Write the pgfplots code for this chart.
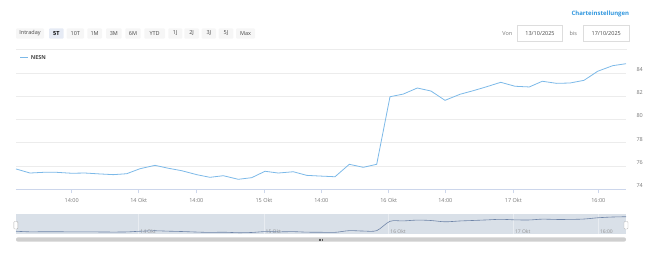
\documentclass[border=0pt]{standalone}
\usepackage{pgfplots}
\pgfplotsset{compat=1.18}
\usepackage{fontspec}
\setmainfont{Open Sans}
\definecolor{mainline}{RGB}{124,185,232}
\definecolor{gridcol}{RGB}{236,236,236}
\definecolor{axiscol}{RGB}{204,214,235}
\definecolor{labelgray}{RGB}{120,120,120}
\definecolor{navfill}{RGB}{217,224,232}
\definecolor{navline}{RGB}{111,133,168}
\definecolor{navsep}{RGB}{232,236,241}
\definecolor{btnbg}{RGB}{246,246,246}
\definecolor{btnsel}{RGB}{230,235,245}
\definecolor{linkblue}{RGB}{47,150,222}
\definecolor{boxborder}{RGB}{221,221,221}
\definecolor{scrollcol}{RGB}{207,207,207}
\definecolor{textdark}{RGB}{70,70,70}

\pgfplotstableread{
x y
16 75.75
30 75.40
43.3 75.46
56.7 75.46
71.7 75.38
85 75.40
100 75.32
113.3 75.26
126.7 75.34
140 75.77
155 76.06
168.3 75.81
181.7 75.60
196.7 75.26
210 75.03
223.3 75.17
238.3 74.86
251.7 75.00
265 75.55
278.3 75.40
293.3 75.51
306.7 75.20
320 75.14
335 75.08
349.3 76.15
363.3 75.89
376.7 76.15
390 81.96
403.3 82.19
417.3 82.71
431 82.45
445 81.65
460 82.17
473.3 82.48
486.7 82.82
500.7 83.20
515 82.86
529.3 82.80
542.3 83.29
556.7 83.11
570 83.14
584 83.37
597.7 84.15
612.7 84.63
626 84.80
}\nesn

\begin{document}
\begin{tikzpicture}[font=\fontsize{5.5}{6.5}\selectfont]
\begin{scope}[x=1pt,y=1pt]
\useasboundingbox (0,0) rectangle (654,-255);

% header: link, range buttons, date boxes
\node[anchor=east,text=linkblue,font=\fontsize{6}{7}\selectfont\bfseries,inner sep=0] at (629.3,-14.3) {Charteinstellungen};
\foreach \a/\b/\t in {16/44/Intraday,66.7/84/10T,87.3/102/1M,106/121.7/3M,125.3/140.7/6M,144.3/165/YTD,168.3/182.3/1J,184.3/199/2J,201.7/216/3J,218.7/233.3/5J,236/255/Max}{
  \fill[btnbg,rounded corners=1pt] (\a,-28.3) rectangle (\b,-38.7);
  \node[text=textdark,inner sep=0] at ({(\a+\b)/2},-33.5) {\t};
}
\fill[btnsel,rounded corners=1pt] (49,-28.3) rectangle (63.7,-38.7);
\node[text=black,inner sep=0,font=\fontsize{5.5}{6.5}\selectfont\bfseries] at (56.35,-33.5) {5T};
\node[anchor=east,text=labelgray,inner sep=0] at (512.5,-33.7) {Von};
\draw[boxborder,line width=0.5pt] (517.3,-25.7) rectangle (562.7,-41.7);
\node[text=textdark,inner sep=0] at (540,-33.7) {13/10/2025};
\node[anchor=west,text=labelgray,inner sep=0] at (569.3,-33.7) {bis};
\draw[boxborder,line width=0.5pt] (583.3,-25.7) rectangle (629,-41.7);
\node[text=textdark,inner sep=0] at (606.2,-33.7) {17/10/2025};
\draw[gridcol,line width=0.6pt] (16,-49.3) -- (626.5,-49.3);

% legend
\draw[mainline,line width=0.8pt] (20,-57.7) -- (28,-57.7);
\node[anchor=west,inner sep=0,text=textdark,font=\fontsize{5.5}{6.5}\selectfont\bfseries] at (30.7,-57.7) {NESN};

% navigator background
\fill[navfill] (16,-214) rectangle (626,-234);
\end{scope}

% main chart
\begin{axis}[
  at={(16pt,-189.3pt)}, anchor=south west,
  scale only axis, width=610pt, height=130.26pt,
  xmin=16, xmax=626, ymin=74, ymax=85.2,
  axis x line*=bottom, axis y line*=right,
  x axis line style={draw=axiscol,line width=0.6pt,-},
  y axis line style={draw=none},
  ymajorgrids, major grid style={draw=gridcol,line width=0.6pt},
  ytick={74,76,78,80,82,84},
  ytick style={draw=none},
  xtick={71.7,138.7,196.3,264,321.3,388.7,445.3,513.3,598.3},
  xticklabels={14:00,14 Okt,14:00,15 Okt,14:00,16 Okt,14:00,17 Okt,16:00},
  xtick style={draw=axiscol,line width=0.6pt},
  tick align=outside, major tick length=4pt,
  /pgf/number format/assume math mode=true,
  tick label style={font=\fontsize{5.5}{6.5}\selectfont,text=labelgray},
  yticklabel style={anchor=west,xshift=3pt,yshift=3.5pt},
  xticklabel style={yshift=-1.5pt},
  clip=false,
]
\addplot[mainline,line width=0.8pt] table[x=x,y=y] {\nesn};
\end{axis}

% navigator
\begin{axis}[
  at={(16pt,-234pt)}, anchor=south west,
  scale only axis, width=610pt, height=20pt,
  xmin=16, xmax=626, ymin=74.05, ymax=86.5,
  hide axis, clip=false,
]
\foreach \p/\t in {138.7/14 Okt,264/15 Okt,388.7/16 Okt,513.3/17 Okt,598.3/16:00}{
  \edef\temp{\noexpand\draw[navsep,line width=0.6pt] (axis cs:\p,74.05) -- (axis cs:\p,86.5);
    \noexpand\node[anchor=west,inner sep=0,text=labelgray!80,font=\noexpand\fontsize{5}{6}\noexpand\selectfont] at (axis cs:\p+1.5,75.6) {\t};}
  \temp
}
\addplot[navline,line width=0.6pt,smooth] table[x=x,y=y] {\nesn};
\end{axis}

\begin{scope}[x=1pt,y=1pt]
% navigator handles
\draw[gray!60,fill=white,rounded corners=0.8pt,line width=0.4pt] (13.8,-221.5) rectangle (17.8,-229);
\draw[gray!60,fill=white,rounded corners=0.8pt,line width=0.4pt] (624,-221.5) rectangle (628,-229);
% scrollbar
\fill[scrollcol,rounded corners=2pt] (16,-237.3) rectangle (626,-241.7);
\foreach \g in {319.3,320.5,321.7}{\draw[gray!70!black,line width=0.3pt] (\g,-238.5) -- (\g,-240.5);}
\end{scope}
\end{tikzpicture}
\end{document}
